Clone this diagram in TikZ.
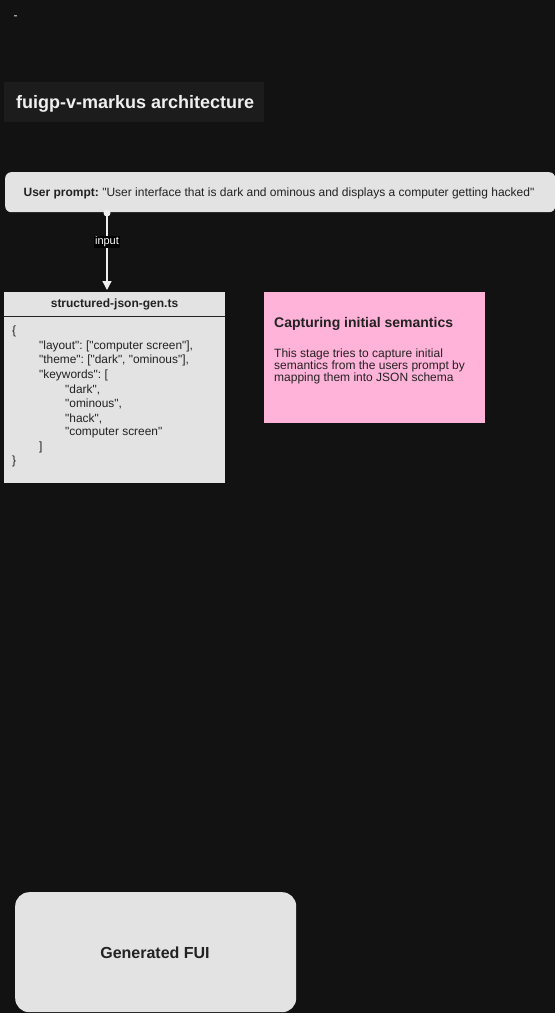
\documentclass[tikz,border=0pt]{standalone}
\usepackage{fontspec}
\setmainfont{Liberation Sans}[Ligatures=TeXOff]
\frenchspacing
\usetikzlibrary{arrows.meta}
\definecolor{bg}{HTML}{121212}
\definecolor{titlebg}{HTML}{1C1C1C}
\definecolor{boxfill}{HTML}{E3E3E3}
\definecolor{pinkfill}{HTML}{FFB3D9}
\definecolor{txt}{HTML}{222222}
\definecolor{light}{HTML}{F0F0F0}
\begin{document}
\begin{tikzpicture}[x=1pt,y=-1pt,
  graybox/.style={fill=boxfill,draw=none},
  codeline/.style={anchor=west,inner sep=0pt,font=\fontsize{11.9}{14}\selectfont,text=txt},
  pinkline/.style={anchor=west,inner sep=0pt,font=\fontsize{12}{14}\selectfont,text=txt},
  flow/.style={draw=light,line width=1.3pt,-{Triangle[length=9pt,width=9pt]}}]
\fill[bg] (0,0) rectangle (555,1013);
\useasboundingbox (0,0) rectangle (555,1013);
\node[inner sep=0pt,text=light,font=\fontsize{12}{14}\selectfont] (dash) at (15.5,17.5) {-};
% title
\node[fill=titlebg,minimum width=260pt,minimum height=40pt,anchor=north west,inner sep=0pt] (titlebox) at (4,82) {};
\node[anchor=west,inner sep=0pt,text=light,font=\fontsize{18}{22}\bfseries\selectfont] (title) at (16,103.5) {fuigp-v-markus architecture};
% user prompt
\node[graybox,rounded corners=6pt,minimum width=550pt,minimum height=40pt,anchor=north west,inner sep=0pt] (prompt) at (5,172) {};
\node[inner sep=0pt,text=txt,font=\fontsize{12}{15}\selectfont] (prompttext) at (279,193.5) {\textbf{User prompt:} "User interface that is dark and ominous and displays a computer getting hacked"};
% json box
\node[graybox,minimum width=221pt,minimum height=191pt,anchor=north west,inner sep=0pt] (json) at (4,292) {};
\draw[txt,line width=1pt] (4,316) -- (225,316);
\node[inner sep=0pt,text=txt,font=\fontsize{12}{14}\bfseries\selectfont] (jsontitle) at (114.5,304.5) {structured-json-gen.ts};
\node[codeline] (l1) at (12,331.5) {\{};
\node[codeline] (l2) at (39,346.5) {"layout": ["computer screen"],};
\node[codeline] (l3) at (39,360.5) {"theme": ["dark", "ominous"],};
\node[codeline] (l4) at (39,375.5) {"keywords": [};
\node[codeline] (l5) at (65,389.5) {"dark",};
\node[codeline] (l6) at (65,403.5) {"ominous",};
\node[codeline] (l7) at (65,418.5) {"hack",};
\node[codeline] (l8) at (65,432.5) {"computer screen"};
\node[codeline] (l9) at (39,447.5) {]};
\node[codeline] (l10) at (12,461.5) {\}};
% arrow
\coordinate (start) at (107,213);
\coordinate (end) at (107,290);
\draw[flow] (start) -- (end);
\fill[light] (start) circle (3.5pt);
\node[fill=black,text=white,inner sep=1pt,font=\fontsize{11}{13}\selectfont] (inlabel) at (107,242) {input};
% pink
\node[fill=pinkfill,minimum width=221pt,minimum height=131pt,anchor=north west,inner sep=0pt] (pink) at (264,292) {};
\node[anchor=west,inner sep=0pt,text=txt,font=\fontsize{14}{17}\bfseries\selectfont] (pinktitle) at (274,323.5) {Capturing initial semantics};
\node[pinkline] (p1) at (274,354.5) {This stage tries to capture initial};
\node[pinkline] (p2) at (274,366.5) {semantics from the users prompt by};
\node[pinkline] (p3) at (274,378.5) {mapping them into JSON schema};
% generated
\node[graybox,rounded corners=14pt,minimum width=281pt,minimum height=120pt,anchor=north west,inner sep=0pt] (fui) at (15,892) {};
\node[inner sep=0pt,text=txt,font=\fontsize{16}{19}\bfseries\selectfont] (fuitext) at (155,953) {Generated FUI};
\end{tikzpicture}
\end{document}
